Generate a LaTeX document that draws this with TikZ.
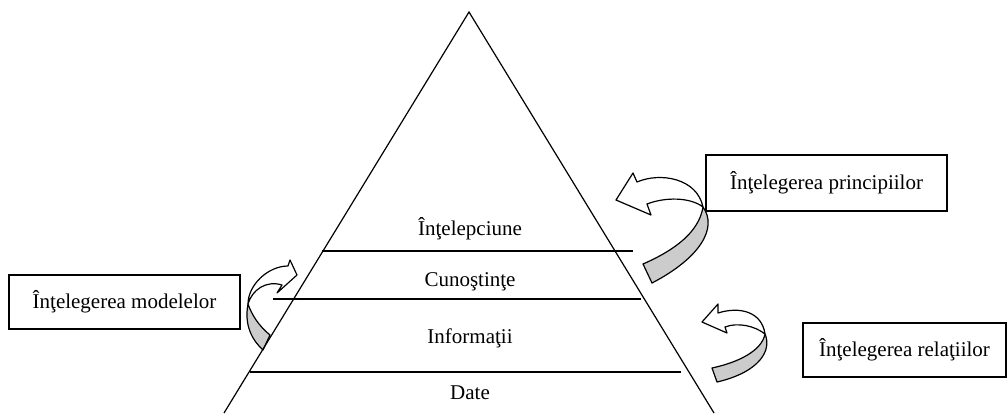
\documentclass[tikz,border=0pt]{standalone}
\usepackage{fontspec}
\setmainfont{Liberation Serif}
\definecolor{ribbongray}{RGB}{204,204,204}

\begin{document}
\begin{tikzpicture}[
    x=1pt, y=-1pt,
    labelbox/.style={rectangle, draw, line width=1.2pt, inner sep=0pt, align=center, font=\fontsize{21}{25}\selectfont},
    level/.style={inner sep=0pt, font=\fontsize{21}{25}\selectfont},
    divider/.style={line width=1.2pt},
    ribbon/.style={draw, line width=1.2pt, line join=round}
]
    \useasboundingbox (0,0) rectangle (1008,413);

    % Curved arrows (ribbon shapes)
    \draw[ribbon] (637,182) .. controls (660,172) and (697,178) .. (703,207)
        .. controls (690,197) and (665,197) .. (647,204) -- (651,215) -- (616,200) -- (633,173) -- cycle;
    \draw[ribbon, fill=ribbongray] (703,207) .. controls (718,228) and (700,258) .. (652,283) -- (643,264)
        .. controls (675,250) and (699,232) .. (703,207) -- cycle;

    \draw[ribbon] (718,313) .. controls (740,306) and (762,312) .. (765,334)
        .. controls (755,326) and (738,322) .. (725,327) -- (727,333) -- (702,322) -- (718,304) -- cycle;
    \draw[ribbon, fill=ribbongray] (765,334) .. controls (772,350) and (760,372) .. (717,382) -- (712,368)
        .. controls (740,362) and (762,350) .. (765,334) -- cycle;

    \draw[ribbon] (288,266) .. controls (268,266) and (248,285) .. (248,304)
        .. controls (252,290) and (266,280) .. (282,285) -- (277,293) -- (297,275) -- (290,260) -- cycle;
    \draw[ribbon, fill=ribbongray] (248,304) .. controls (244,325) and (252,340) .. (263,350) -- (270,335)
        .. controls (258,325) and (252,315) .. (248,304) -- cycle;

    % Pyramid
    \coordinate (apex) at (469,12);
    \coordinate (baseL) at (224,413);
    \coordinate (baseR) at (714,413);
    \draw[divider] (baseL) -- (apex) -- (baseR);

    % Levels
    \draw[divider] (322,251) -- (633,251);
    \draw[divider] (273,299) -- (641,299);
    \draw[divider] (250,372) -- (681,372);

    \node[level] (wisdom) at (470,229) {Înţelepciune};
    \node[level] (knowledge) at (470,282) {Cunoştinţe};
    \node[level] (information) at (470,338) {Informaţii};
    \node[level] (data) at (470,393) {Date};

    % Boxes
    \node[labelbox, minimum width=241pt, minimum height=56pt] (principles) at (826.5,183) {Înţelegerea principiilor};
    \node[labelbox, minimum width=231pt, minimum height=54pt] (patterns) at (124.5,302) {Înţelegerea modelelor};
    \node[labelbox, minimum width=203pt, minimum height=54pt] (relations) at (904.5,350) {Înţelegerea relaţiilor};
\end{tikzpicture}
\end{document}
